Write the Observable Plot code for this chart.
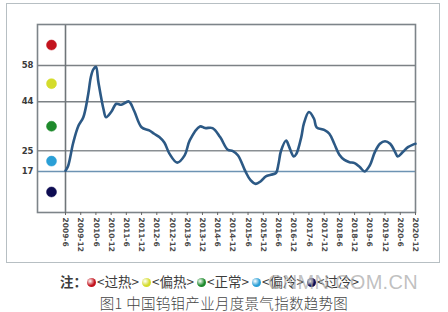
<!DOCTYPE html>
<html>
<head>
<meta charset="utf-8">
<script src="https://cdn.jsdelivr.net/npm/d3@7"></script>
<script src="https://cdn.jsdelivr.net/npm/@observablehq/plot@0.6"></script>
<style>
  html, body { margin: 0; padding: 0; background: #fff; }
  #wrap { position: relative; width: 448px; height: 312px; overflow: hidden; }
  #outer { position: absolute; left: 6px; top: 3px; width: 432px; height: 258px; border: 1.5px solid #b7bfc3; }
  #chart { position: absolute; left: 0; top: 0; }
  #legend { position: absolute; left: 60px; top: 271px; height: 18px; font-family: "Noto Sans CJK SC", sans-serif; font-size: 13.5px; color: #3c3c3c; white-space: nowrap; }
  #legend span.item { margin-right: 3px; }
  #legend i { display: inline-block; width: 9px; height: 9px; border-radius: 50%; vertical-align: 0px; margin-right: 1px; }
  #wm { position: absolute; left: 268px; top: 271px; font-family: "Liberation Sans", Arial, sans-serif; font-size: 20px; color: rgba(165,165,165,0.7); letter-spacing: 0.3px; }
  #title { position: absolute; left: 0; width: 448px; top: 292px; text-align: center; font-family: "Noto Sans CJK SC", sans-serif; font-size: 14.5px; color: #444; font-weight: 300; letter-spacing: 0.3px; }
</style>
</head>
<body>
<div id="wrap">
  <div id="outer"></div>
  <div id="chart"></div>
  <div id="legend"></div>
  <div id="wm">CNMN.COM.CN</div>
  <div id="title">图1 中国钨钼产业月度景气指数趋势图</div>
</div>
<script>
// ---- data ----
const months = ["2009-6","2009-7","2009-9","2009-11","2010-1","2010-3","2010-4","2010-5","2010-6","2010-7","2010-9","2010-10","2010-12","2011-2","2011-4","2011-7","2011-9","2011-12","2012-3","2012-5","2012-7","2012-9","2012-11","2013-2","2013-5","2013-7","2013-11","2014-1","2014-4","2014-7","2014-10","2014-12","2015-2","2015-5","2015-7","2015-9","2015-11","2016-1","2016-3","2016-5","2016-6","2016-7","2016-9","2016-10","2016-12","2017-1","2017-3","2017-4","2017-6","2017-8","2017-9","2017-12","2018-2","2018-4","2018-6","2018-8","2018-10","2018-12","2019-2","2019-4","2019-6","2019-8","2019-10","2019-12","2020-2","2020-4","2020-5","2020-7","2020-9","2020-11","2020-12"];
const values = [17.3,19,28,34.5,38,47,53.5,56.5,57.5,51.5,41,38,40,43.2,42.8,44.1,40.6,34.1,32.9,31.6,30.3,28.1,23.8,20.4,23.2,29,34.4,33.8,33.8,30.3,25.4,24.9,23.2,17,13.6,12.2,13.2,15.1,15.7,16.4,20,25,29,27,22.8,23.8,30.3,35.5,40,37.4,34.1,33.1,31.6,27.7,23.5,21.5,20.6,20.2,18.7,17,19.3,24.5,27.7,28.7,27.7,24.5,22.8,24.5,26.4,27.4,27.7];
const tickLabels = ["2009-6","2009-12","2010-6","2010-12","2011-6","2011-12","2012-6","2012-12","2013-6","2013-12","2014-6","2014-12","2015-6","2015-12","2016-6","2016-12","2017-6","2017-12","2018-6","2018-12","2019-6","2019-12","2020-6","2020-12"];
const yTicks = [17, 25, 44, 58];
const yDomain = [1.1, 73.9];
const zoneNames = ["过热", "偏热", "正常", "偏冷", "过冷"];
const zoneColors = ["#c3141e", "#d4dc2c", "#1e8a2c", "#2a9fd6", "#0e0c52"];
const gridColors = ["#6d93b3", "#8a8f93", "#7c8185", "#7c8185"];

const parse = s => { const [y, m] = s.split("-").map(Number); return new Date(y, m - 1, 1); };
const data = months.map((m, i) => ({ date: parse(m), value: values[i] }));
const tickDates = tickLabels.map(parse);
const labelOf = new Map(tickLabels.map(s => [+parse(s), s]));

// zone midpoints for the indicator dots
const bounds = [yDomain[1], ...yTicks.slice().reverse(), yDomain[0]];
const zones = zoneNames.map((n, i) => ({ name: n, color: zoneColors[i], mid: (bounds[i] + bounds[i + 1]) / 2 }));
const grid = yTicks.map((v, i) => ({ v, c: gridColors[i] }));

const plot = Plot.plot({
  width: 448,
  height: 265,
  marginLeft: 37,
  marginRight: 33,
  marginTop: 24,
  marginBottom: 53,
  style: { background: "transparent", overflow: "visible" },
  x: { type: "time", domain: [tickDates[0], tickDates[tickDates.length - 1]], range: [65, 415] },
  y: { domain: yDomain },
  marks: [
    Plot.ruleY(grid, { y: "v", stroke: "c", strokeWidth: 1.6 }),
    Plot.ruleX([tickDates[0]], { stroke: "#6f7579", strokeWidth: 1.6 }),
    Plot.frame({ stroke: "#7d8489", strokeWidth: 1.6 }),
    Plot.dot(zones, { y: "mid", frameAnchor: "left", dx: 14, r: 5, fill: "color", stroke: "color", strokeWidth: 0.5 }),
    Plot.line(data, { x: "date", y: "value", stroke: "#2c5985", strokeWidth: 2.6, curve: "catmull-rom" }),
    Plot.axisY({ ticks: yTicks, tickSize: 0, tickPadding: 4, fontSize: 8.5, fontWeight: "bold", fill: "#3a3a3a", fontFamily: "DejaVu Sans", label: null }),
    Plot.axisX({ ticks: tickDates, tickFormat: d => labelOf.get(+d), tickRotate: 90, tickSize: 3, tickPadding: 2, fontSize: 7.5, fontWeight: "bold", fill: "#4a4a4a", stroke: "#666", fontFamily: "DejaVu Sans", label: null })
  ]
});
document.getElementById("chart").appendChild(plot);

// legend
const leg = document.getElementById("legend");
leg.innerHTML = '<b>注：</b>' + zones.map(z => `<span class="item"><i style="background:radial-gradient(circle at 35% 35%, #fff8 0, ${z.color} 55%)"></i>&lt;${z.name}&gt;</span>`).join("");
</script>
</body>
</html>
